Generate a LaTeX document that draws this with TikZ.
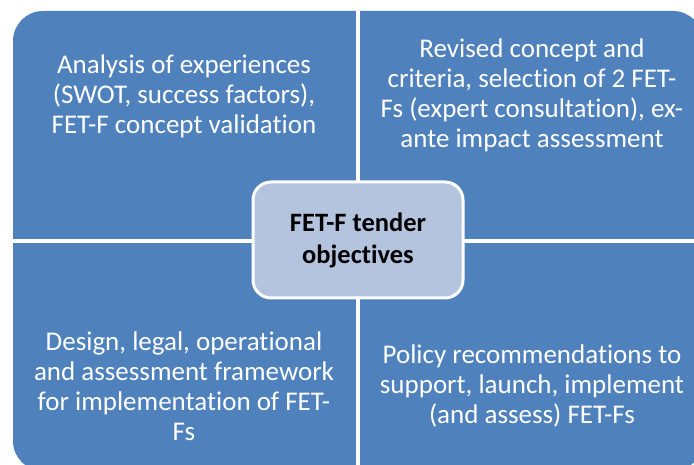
\documentclass[tikz,border=0pt]{standalone}
\usepackage{fontspec}
\setmainfont{Carlito}[Ligatures=NoCommon]
\usetikzlibrary{positioning}

\definecolor{quadblue}{RGB}{79,129,189}
\definecolor{hubblue}{RGB}{180,196,223}

\begin{document}
\begin{tikzpicture}[x=1pt, y=1pt, inner sep=0pt]
            \tikzstyle{panel} = [rectangle, fill=quadblue, rounded corners=30pt, minimum width=690pt, minimum height=460pt]
            \tikzstyle{divider} = [draw, white, line width=4pt]
            \tikzstyle{hub} = [rectangle, draw=white, line width=3pt, fill=hubblue, rounded corners=18pt, minimum width=210pt, minimum height=116pt, align=center, font=\fontsize{26.5}{32}\selectfont\bfseries]
            \tikzstyle{txt} = [text=white, align=center, font=\fontsize{27}{30}\selectfont]

            \clip (0,0) rectangle (694,464);
            \useasboundingbox (0,0) rectangle (694,464);

            \node [panel] (frame) at (358,223) {};
            \path [divider] (frame.north) -- (frame.south);
            \path [divider] (frame.west) -- (frame.east);

            \node [hub] (goal) at (358,224) {FET-F tender\\objectives};

            \node [txt] (analysis) at (184,368) {Analysis of experiences\\(SWOT, success factors),\\FET-F concept validation};
            \node [txt] (concept) at (532,369) {Revised concept and\\criteria, selection of 2 FET-\\Fs (expert consultation), ex-\\ante impact assessment};
            \node [txt] (design) at (184,78) {Design, legal, operational\\and assessment framework\\for implementation of FET-\\Fs};
            \node [txt] (policy) at (532,78) {Policy recommendations to\\support, launch, implement\\(and assess) FET-Fs};
        \end{tikzpicture}
\end{document}
